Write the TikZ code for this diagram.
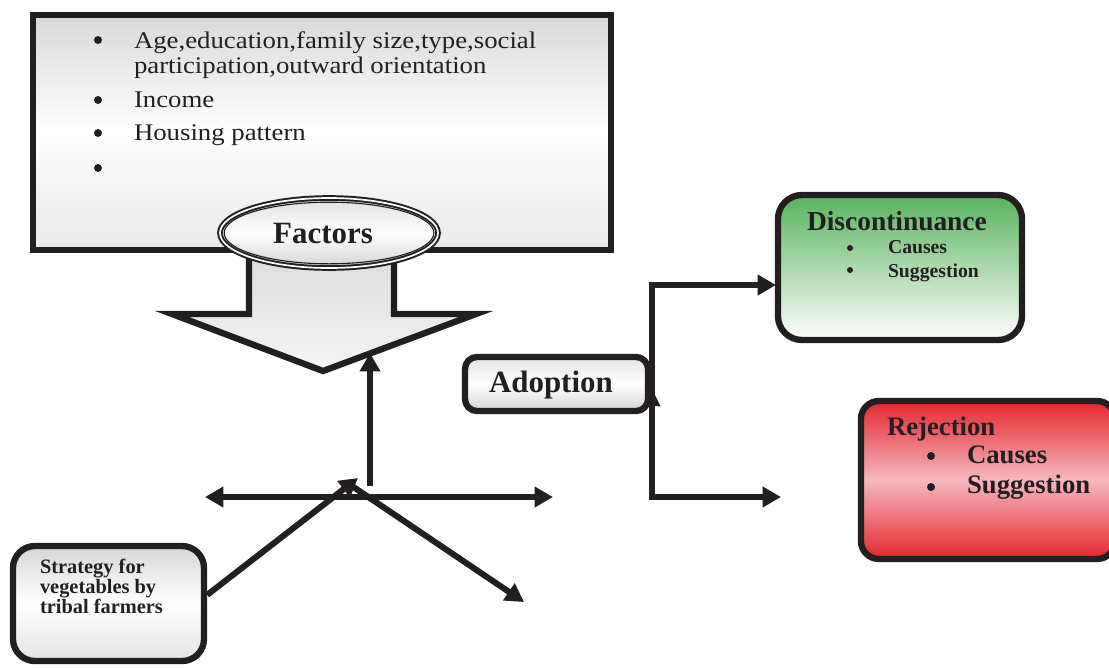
\documentclass[tikz,border=0pt]{standalone}
\usepackage{fontspec}
\setmainfont{Liberation Serif}
\newfontfamily\listfont[FakeStretch=1.12]{Liberation Serif}
\usetikzlibrary{shapes.geometric,arrows.meta}
\definecolor{ink}{RGB}{35,31,32}
\definecolor{leaf}{RGB}{88,178,92}
\definecolor{blood}{RGB}{226,38,44}
\definecolor{blush}{RGB}{244,184,190}

\begin{document}
\begin{tikzpicture}[x=0.025cm,y=-0.025cm,line width=4.3pt,
  panel/.style={draw=ink,line width=4.5pt,inner sep=0pt},
  arr/.style={draw=ink,line width=4.3pt,-{Triangle[length=13pt,width=14pt]}},
  txt/.style={anchor=base west,inner sep=0pt,text=ink},
  dot/.style={circle,fill=ink,inner sep=0pt,minimum size=#1},
  dot/.default=0.2cm]
  \useasboundingbox (0,0) rectangle (1109,667);
  \fill[white] (0,0) rectangle (1109,667);

  % big down arrow under the factors
  \draw[draw=ink,line width=4.5pt,top color=gray!28,bottom color=gray!8]
    (249,250) -- (249,314) -- (172,314) -- (323,371) -- (476,314) -- (394,314) -- (394,250);

  \node[panel,minimum width=14.45cm,minimum height=5.875cm,
    top color=gray!30,bottom color=gray!18,middle color=white] (factorsbox) at (322,132.5) {};
  \foreach \y in {40,100,133,168}
    \node[dot] (fdot\y) at (98,\y) {};
  \node[txt] (age) at (131,48) {\fontsize{17}{18}\listfont Age,education,family size,type,social};
  \node[txt] (part) at (131,73) {\fontsize{17}{18}\listfont participation,outward orientation};
  \node[txt] (income) at (131,107) {\fontsize{17}{18}\listfont Income};
  \node[txt] (housing) at (131,140) {\fontsize{17}{18}\listfont Housing pattern};

  \node[ellipse,draw=ink,line width=1.4pt,double=white,double distance=1.2pt,
    minimum width=5.45cm,minimum height=1.75cm,inner sep=0pt,
    top color=gray!25,bottom color=gray!35,middle color=white] (factors) at (329,233) {};
  \draw[ink,line width=0.8pt] (factors.center) ellipse [x radius=2.62cm,y radius=0.77cm];
  \node[anchor=base,inner sep=0pt,text=ink] (factorslbl) at (323,243)
    {\fontsize{22}{22}\selectfont\bfseries Factors};

  \node[panel,rounded corners=0.3cm,minimum width=4.575cm,minimum height=1.35cm,
    top color=gray!22,bottom color=gray!35,middle color=white] (adoption) at (556.5,384) {};
  \node[txt] (adoptionlbl) at (486,392) {\fontsize{22}{22}\selectfont\bfseries Adoption};

  \node[panel,rounded corners=0.6cm,minimum width=6.1cm,minimum height=3.625cm,
    top color=leaf,bottom color=white] (discont) at (900,267.5) {};
  \node[txt] (discontlbl) at (804,230) {\fontsize{19.5}{20}\selectfont\bfseries Discontinuance};
  \node[dot=0.15cm] (ddot1) at (850,248) {};
  \node[dot=0.15cm] (ddot2) at (850,270) {};
  \node[txt] (dcause) at (885,253) {\fontsize{14}{14}\selectfont\bfseries Causes};
  \node[txt] (dsugg) at (885,277) {\fontsize{14}{14}\selectfont\bfseries Suggestion};

  \node[panel,rounded corners=0.45cm,minimum width=6.35cm,minimum height=3.95cm,
    top color=blood,bottom color=blood,middle color=blush] (reject) at (988,480) {};
  \node[txt] (rejectlbl) at (884,435) {\fontsize{19}{19}\selectfont\bfseries Rejection};
  \node[dot=0.2cm] (rdot1) at (931,456) {};
  \node[dot=0.2cm] (rdot2) at (931,487) {};
  \node[txt] (rcause) at (964,463) {\fontsize{19}{19}\selectfont\bfseries Causes};
  \node[txt] (rsugg) at (964,493) {\fontsize{19}{19}\selectfont\bfseries Suggestion};

  \node[panel,rounded corners=0.55cm,minimum width=4.775cm,minimum height=2.875cm,
    top color=gray!32,bottom color=gray!22,middle color=white] (strategy) at (108.5,603.5) {};
  \node[txt] (strat1) at (37,573) {\fontsize{14.5}{14}\selectfont\bfseries Strategy for};
  \node[txt] (strat2) at (37,593) {\fontsize{14.5}{14}\selectfont\bfseries vegetables by};
  \node[txt] (strat3) at (37,613) {\fontsize{14.5}{14}\selectfont\bfseries tribal farmers};

  \coordinate (hub) at (358,478);
  \coordinate (upfoot) at (370,486);
  \coordinate (uptip) at (370,353);
  \coordinate (hleft) at (205,497);
  \coordinate (hright) at (553,497);
  \coordinate (dfoot) at (352,486);
  \coordinate (dtip) at (524,602);
  \coordinate (fork) at (652,400);
  \coordinate (forktip) at (654,393);
  \coordinate (discin) at (776,285);
  \coordinate (rejout) at (781,497);

  \draw[arr] (strategy.5) -- (hub);
  \draw[arr] (upfoot) -- (uptip);
  \draw[ink,line width=4.3pt,{Triangle[length=13pt,width=14pt]}-{Triangle[length=13pt,width=14pt]}] (hleft) -- (hright);
  \draw[arr] (dfoot) -- (dtip);

  \draw[arr] (fork) |- (discin);
  \draw[arr] (fork) |- (rejout);
  \draw[ink,line width=2pt,-{Triangle[length=9pt,width=11pt]}] (652,410) -- (forktip);
\end{tikzpicture}
\end{document}
